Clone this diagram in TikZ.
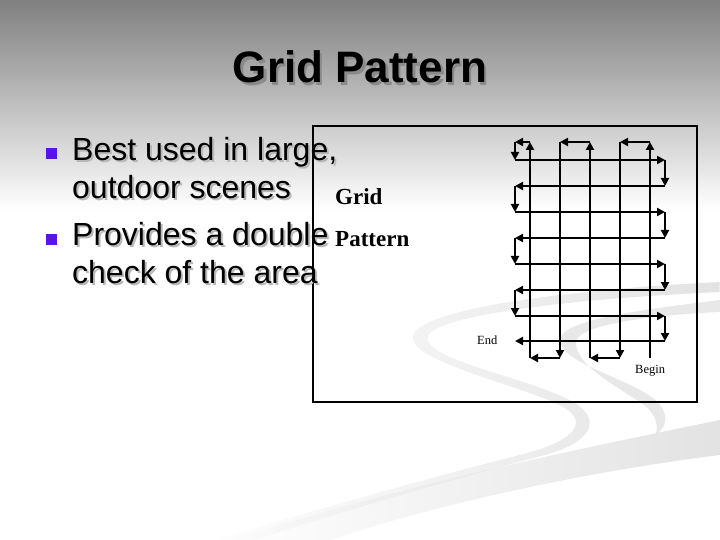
\documentclass[tikz,border=0pt]{standalone}
\usepackage{fontspec}
\setmainfont{Liberation Sans}
\newfontfamily\tnr{Liberation Serif}
\usetikzlibrary{arrows.meta,fadings}
\definecolor{bulletc}{RGB}{90,20,235}
\newcommand\withshadow[3]{\makebox[0pt][l]{\hspace*{#2}\raisebox{-#2}[0pt][0pt]{\color{#1}#3}}#3}
\tikzfading[name=fadeleft, left color=transparent!100, middle color=transparent!25, right color=transparent!0]
\begin{document}
\begin{tikzpicture}[x=1bp,y=-1bp,
  gline/.style={line width=2.3bp,-{Triangle[length=8bp,width=8bp]}},
  ribbon/.style={fill=black!11,draw=none,path fading=fadeleft},
  bodytxt/.style={anchor=base west,inner sep=0pt,font=\fontsize{32bp}{38bp}\selectfont},
  titletxt/.style={anchor=base,inner sep=0pt,font=\bfseries\fontsize{44bp}{50bp}\selectfont},
  bulletbox/.style={fill=bulletc,minimum size=11.5bp,inner sep=0pt,draw=none},
  smalllbl/.style={anchor=base west,inner sep=0pt,font=\tnr\fontsize{12.5bp}{15bp}\selectfont},
  gridlbl/.style={anchor=base west,inner sep=0pt,font=\tnr\bfseries\fontsize{23bp}{27bp}\selectfont}
]
\useasboundingbox (0,0) rectangle (720,540);
\fill[white] (0,0) rectangle (720,540);
\shade[top color=black!50,bottom color=white] (0,0) rectangle (720,210);

% decorative ribbons
\fill[ribbon] (720,282) .. controls (560,290) and (415,310) .. (413,337)
  .. controls (412,362) and (520,385) .. (560,405)
  .. controls (590,420) and (580,440) .. (520,455)
  .. controls (420,480) and (280,520) .. (200,545)
  -- (240,545) .. controls (330,515) and (450,480) .. (545,455)
  .. controls (600,440) and (600,415) .. (570,400)
  .. controls (520,375) and (425,360) .. (428,337)
  .. controls (432,315) and (580,298) .. (720,292) -- cycle;
\fill[black!9] (720,300) .. controls (640,310) and (560,320) .. (560,340)
  .. controls (560,365) and (640,380) .. (660,405)
  .. controls (670,418) and (665,428) .. (655,436)
  .. controls (660,425) and (655,412) .. (640,402)
  .. controls (605,380) and (575,362) .. (576,342)
  .. controls (577,325) and (650,315) .. (720,312) -- cycle;
\fill[ribbon] (720,420) .. controls (600,445) and (420,480) .. (230,540)
  -- (330,540) .. controls (450,500) and (600,470) .. (720,455) -- cycle;

% frame
\draw[line width=2.8bp] (313,126) rectangle (697,402);

% grid coordinates
\foreach \i/\x in {1/530,2/560,3/590,4/620,5/650}{
  \coordinate (T\i) at (\x,142);
  \coordinate (B\i) at (\x,358);
}
\coordinate (T0) at (515,142);
\foreach \j/\y in {1/160,2/186,3/212,4/238,5/264,6/290,7/316,8/341}{
  \coordinate (L\j) at (515,\y);
  \coordinate (R\j) at (665,\y);
}
% vertical sweep
\draw[gline] (B5) -- (T5);
\draw[gline] (T5) -- (T4);
\draw[gline] (T4) -- (B4);
\draw[gline] (B4) -- (B3);
\draw[gline] (B3) -- (T3);
\draw[gline] (T3) -- (T2);
\draw[gline] (T2) -- (B2);
\draw[gline] (B2) -- (B1);
\draw[gline] (B1) -- (T1);
\draw[gline] (T1) -- (T0);
\draw[gline] (T0) -- (L1);
% horizontal sweep
\draw[gline] (L1) -- (R1);
\draw[gline] (R1) -- (R2);
\draw[gline] (R2) -- (L2);
\draw[gline] (L2) -- (L3);
\draw[gline] (L3) -- (R3);
\draw[gline] (R3) -- (R4);
\draw[gline] (R4) -- (L4);
\draw[gline] (L4) -- (L5);
\draw[gline] (L5) -- (R5);
\draw[gline] (R5) -- (R6);
\draw[gline] (R6) -- (L6);
\draw[gline] (L6) -- (L7);
\draw[gline] (L7) -- (R7);
\draw[gline] (R7) -- (R8);
\draw[gline] (R8) -- (L8);

% labels in the frame
\node[smalllbl] (endlbl) at (477,344) {End};
\node[smalllbl] (beginlbl) at (635,373) {Begin};
\node[gridlbl] (glbl) at (335,205) {Grid};
\node[gridlbl] (plbl) at (335,247) {Pattern};

% title
\node[titletxt] (title) at (360,83) {\withshadow{black!46}{2.5bp}{Grid Pattern}};

% bullets
\node[bulletbox] (b1) at (51.7,153.3) {};
\node[bulletbox] (b2) at (51.7,239.3) {};
\node[bodytxt] (l1) at (72,160.5) {\withshadow{black!28}{2bp}{Best used in large,}};
\node[bodytxt] (l2) at (72,199) {\withshadow{black!28}{2bp}{outdoor scenes}};
\node[bodytxt] (l3) at (72,245.5) {\withshadow{black!28}{2bp}{Provides a double}};
\node[bodytxt] (l4) at (72,284) {\withshadow{black!28}{2bp}{check of the area}};
\end{tikzpicture}
\end{document}
